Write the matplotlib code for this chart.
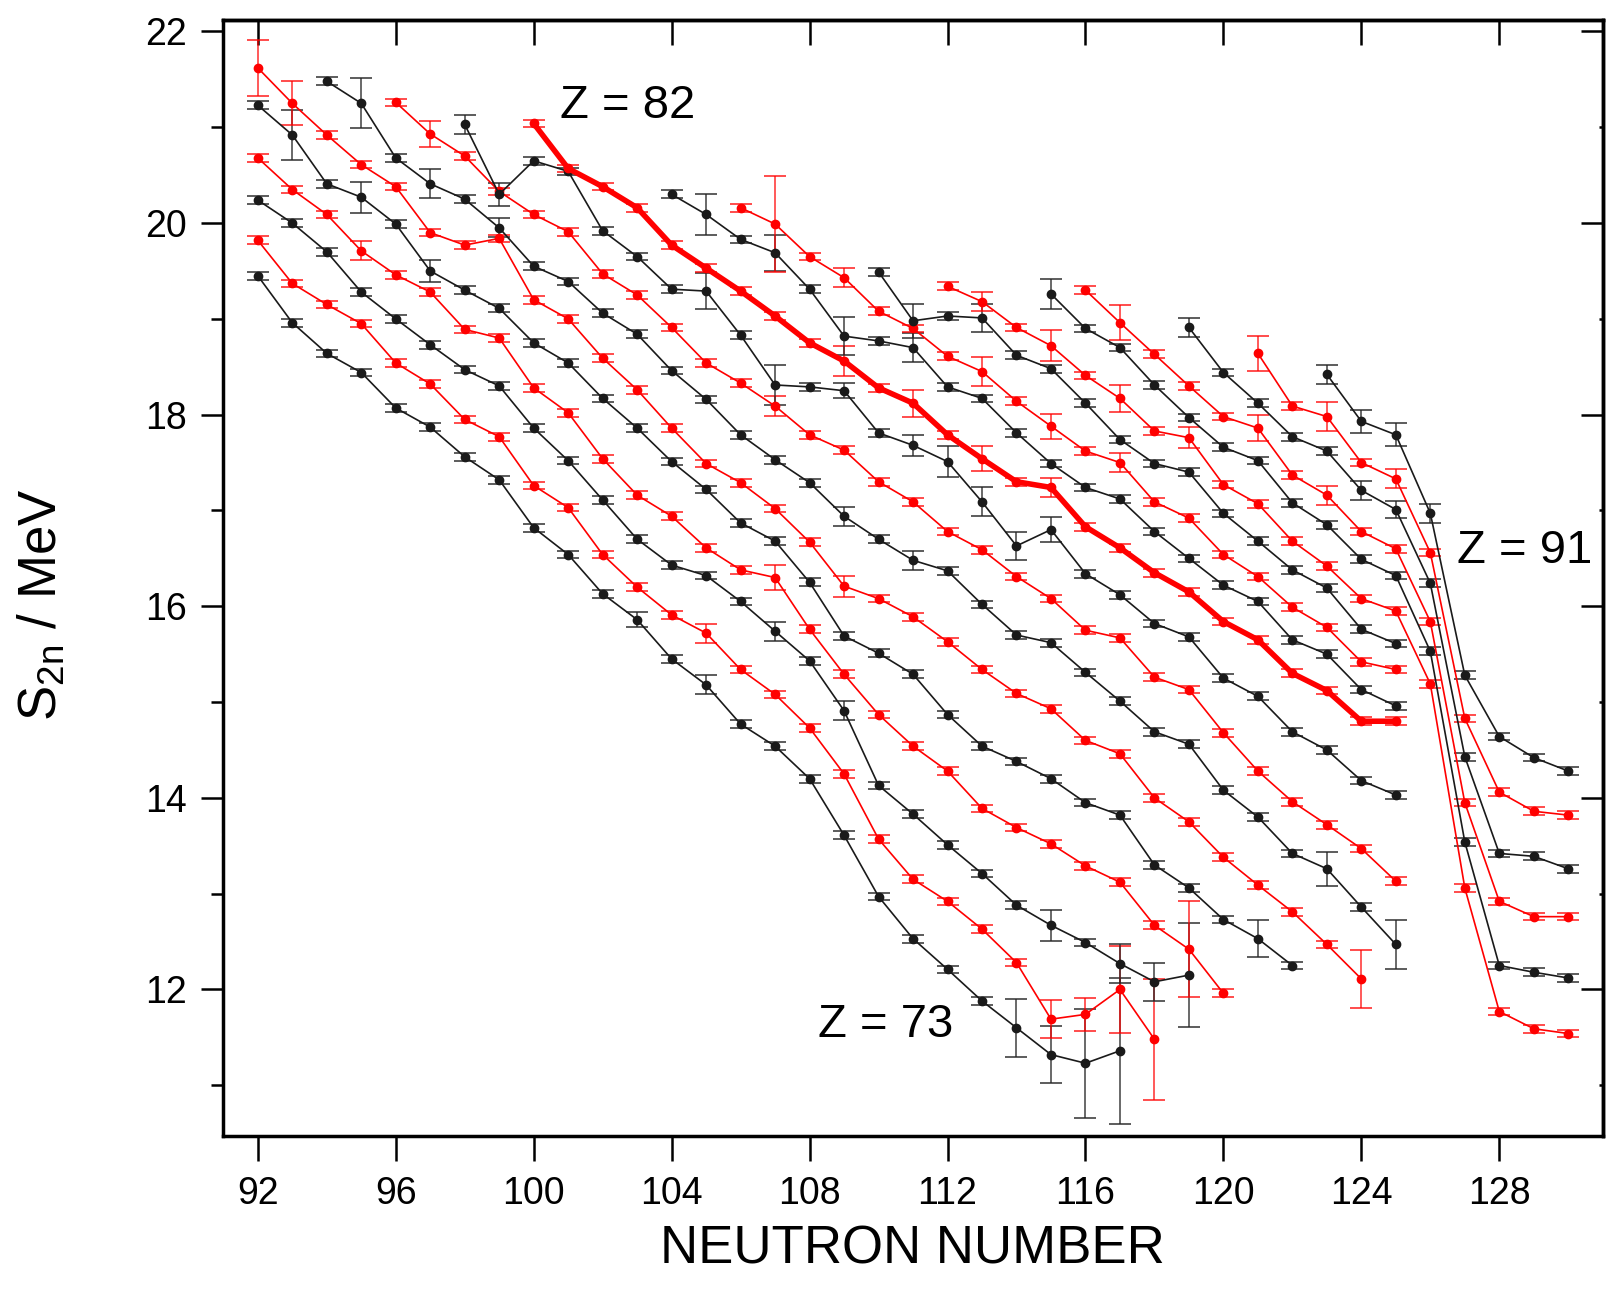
import matplotlib.pyplot as plt
import numpy as np

plt.rcParams['font.family'] = ['Liberation Sans', 'DejaVu Sans']
plt.rcParams['mathtext.fontset'] = 'custom'
plt.rcParams['mathtext.rm'] = 'Liberation Sans'

# proton number of each isotopic chain and the first neutron number it has
protons = [73, 74, 75, 76, 77, 78, 79, 80, 81, 82, 83, 84, 85, 86, 87, 88, 89, 90, 91]
first_n = [92, 92, 92, 92, 92, 92, 94, 96, 98, 100, 104, 106, 110, 112, 115, 116, 119, 121, 123]

# S2n values (MeV) for consecutive neutron numbers
s2n_73 = [19.45, 18.96, 18.64, 18.44, 18.07, 17.87, 17.56, 17.32, 16.82, 16.54, 16.13, 15.86, 15.45,
          15.18, 14.77, 14.54, 14.20, 13.61, 12.97, 12.53, 12.21, 11.88, 11.60, 11.32, 11.23, 11.36]
s2n_74 = [19.82, 19.37, 19.15, 18.95, 18.54, 18.32, 17.95, 17.77, 17.26, 17.03, 16.54, 16.20, 15.91,
          15.72, 15.34, 15.08, 14.73, 14.25, 13.57, 13.15, 12.92, 12.63, 12.28, 11.69, 11.74, 12.00, 11.48]
s2n_75 = [20.24, 20.00, 19.70, 19.28, 19.00, 18.73, 18.47, 18.30, 17.86, 17.52, 17.11, 16.70, 16.43,
          16.32, 16.05, 15.74, 15.43, 14.91, 14.13, 13.83, 13.51, 13.21, 12.88, 12.67, 12.49, 12.27,
          12.08, 12.15]
s2n_76 = [20.68, 20.35, 20.09, 19.71, 19.46, 19.28, 18.89, 18.80, 18.28, 18.02, 17.54, 17.16, 16.94,
          16.61, 16.38, 16.30, 15.76, 15.29, 14.87, 14.54, 14.28, 13.89, 13.69, 13.52, 13.29, 13.12,
          12.67, 12.42, 11.96]
s2n_77 = [21.23, 20.92, 20.41, 20.27, 19.99, 19.50, 19.30, 19.11, 18.75, 18.54, 18.17, 17.86, 17.51,
          17.22, 16.87, 16.68, 16.25, 15.69, 15.51, 15.29, 14.87, 14.54, 14.38, 14.20, 13.95, 13.82,
          13.30, 13.06, 12.73, 12.53, 12.25]
s2n_78 = [21.62, 21.25, 20.92, 20.61, 20.38, 19.90, 19.77, 19.84, 19.20, 19.00, 18.59, 18.26, 17.86,
          17.49, 17.29, 17.02, 16.67, 16.21, 16.08, 15.89, 15.63, 15.34, 15.09, 14.93, 14.60, 14.46,
          14.00, 13.75, 13.38, 13.09, 12.81, 12.47, 12.11]
s2n_79 = [21.48, 21.25, 20.68, 20.41, 20.25, 19.95, 19.55, 19.39, 19.06, 18.84, 18.46, 18.16, 17.79,
          17.53, 17.29, 16.94, 16.70, 16.48, 16.37, 16.02, 15.70, 15.62, 15.31, 15.01, 14.69, 14.56,
          14.08, 13.80, 13.42, 13.26, 12.86, 12.47]
s2n_80 = [21.26, 20.93, 20.70, 20.33, 20.09, 19.91, 19.47, 19.25, 18.91, 18.54, 18.33, 18.09, 17.79,
          17.63, 17.30, 17.09, 16.78, 16.59, 16.31, 16.08, 15.75, 15.67, 15.26, 15.13, 14.68, 14.28,
          13.96, 13.72, 13.47, 13.13]
s2n_81 = [21.03, 20.30, 20.65, 20.54, 19.92, 19.65, 19.31, 19.29, 18.83, 18.31, 18.29, 18.25, 17.81,
          17.68, 17.51, 17.09, 16.63, 16.80, 16.34, 16.12, 15.82, 15.68, 15.25, 15.06, 14.69, 14.50,
          14.18, 14.03]
s2n_82 = [21.04, 20.57, 20.38, 20.16, 19.77, 19.53, 19.29, 19.03, 18.75, 18.56, 18.28, 18.12, 17.79,
          17.54, 17.30, 17.24, 16.83, 16.61, 16.35, 16.15, 15.84, 15.65, 15.30, 15.12, 14.80, 14.80]
s2n_83 = [20.30, 20.09, 19.83, 19.69, 19.31, 18.82, 18.77, 18.70, 18.29, 18.17, 17.81, 17.49, 17.24,
          17.12, 16.78, 16.50, 16.22, 16.05, 15.65, 15.50, 15.13, 14.96]
s2n_84 = [20.16, 19.99, 19.65, 19.43, 19.08, 18.90, 18.61, 18.45, 18.14, 17.88, 17.62, 17.50, 17.09,
          16.92, 16.54, 16.31, 15.99, 15.78, 15.42, 15.34]
s2n_85 = [19.49, 18.98, 19.03, 19.01, 18.62, 18.48, 18.12, 17.74, 17.49, 17.40, 16.97, 16.68, 16.38,
          16.19, 15.76, 15.61]
s2n_86 = [19.34, 19.18, 18.91, 18.72, 18.41, 18.17, 17.83, 17.76, 17.27, 17.07, 16.68, 16.42, 16.08,
          15.95, 15.19, 13.06, 11.77, 11.59, 11.54]
s2n_87 = [19.26, 18.90, 18.70, 18.31, 17.97, 17.66, 17.52, 17.08, 16.85, 16.49, 16.32, 15.53, 13.54,
          12.25, 12.18, 12.12]
s2n_88 = [19.30, 18.96, 18.63, 18.30, 17.98, 17.86, 17.37, 17.16, 16.78, 16.60, 15.84, 13.95, 12.92,
          12.76, 12.76]
s2n_89 = [18.91, 18.44, 18.12, 17.77, 17.62, 17.21, 17.01, 16.24, 14.43, 13.42, 13.39, 13.26]
s2n_90 = [18.64, 18.09, 17.98, 17.50, 17.33, 16.56, 14.83, 14.06, 13.86, 13.82]
s2n_91 = [18.42, 17.93, 17.79, 16.97, 15.28, 14.64, 14.42, 14.28]

chains = [s2n_73, s2n_74, s2n_75, s2n_76, s2n_77, s2n_78, s2n_79, s2n_80, s2n_81, s2n_82,
          s2n_83, s2n_84, s2n_85, s2n_86, s2n_87, s2n_88, s2n_89, s2n_90, s2n_91]

# uncertainties: most are tiny, the larger ones are listed by (Z, N)
small_err = 0.04
big_err = {
    (78, 92): 0.29, (77, 93): 0.26, (78, 93): 0.23, (79, 95): 0.26, (77, 95): 0.16, (76, 95): 0.10,
    (80, 97): 0.14, (79, 97): 0.15, (77, 97): 0.11, (81, 98): 0.10, (81, 99): 0.12, (79, 99): 0.10,
    (73, 103): 0.08, (73, 105): 0.10, (74, 105): 0.10, (81, 105): 0.19, (83, 105): 0.21,
    (75, 107): 0.10, (76, 107): 0.13, (80, 107): 0.10, (81, 107): 0.21, (83, 107): 0.19, (84, 107): 0.50,
    (75, 109): 0.10, (78, 109): 0.11, (79, 109): 0.10, (81, 109): 0.08, (82, 109): 0.16, (83, 109): 0.20,
    (84, 109): 0.10, (79, 111): 0.10, (81, 111): 0.11, (82, 111): 0.14, (83, 111): 0.15, (85, 111): 0.18,
    (81, 112): 0.16, (81, 113): 0.15, (82, 113): 0.13, (84, 113): 0.15, (85, 113): 0.15, (86, 113): 0.10,
    (73, 114): 0.30, (81, 114): 0.15, (73, 115): 0.30, (74, 115): 0.20, (75, 115): 0.16, (81, 115): 0.13,
    (82, 115): 0.10, (84, 115): 0.13, (86, 115): 0.16, (87, 115): 0.16, (73, 116): 0.57, (74, 116): 0.17,
    (73, 117): 0.76, (74, 117): 0.45, (75, 117): 0.20, (84, 117): 0.10, (86, 117): 0.14, (88, 117): 0.18,
    (74, 118): 0.63, (75, 118): 0.20, (75, 119): 0.54, (76, 119): 0.50, (86, 119): 0.11, (89, 119): 0.10,
    (77, 121): 0.19, (88, 121): 0.14, (90, 121): 0.18, (79, 123): 0.18, (88, 123): 0.10, (90, 123): 0.15,
    (91, 123): 0.10, (78, 124): 0.30, (89, 124): 0.10, (91, 124): 0.12, (79, 125): 0.26, (89, 125): 0.09,
    (90, 125): 0.10, (91, 125): 0.12, (91, 126): 0.10,
}

fig = plt.figure(figsize=(16.10, 12.97), dpi=100)
ax = fig.add_axes([0.1387, 0.1241, 0.8568, 0.8605])

for z, n0, vals in zip(protons, first_n, chains):
    n = np.arange(n0, n0 + len(vals))
    err = [big_err.get((z, k), small_err) for k in n]
    if (z - 73) % 2 == 0:
        col, ecol = '#1a1a1a', (0.15, 0.15, 0.15, 0.75)
    else:
        col, ecol = '#ff0000', (1.0, 0.0, 0.0, 0.7)
    lw = 4.0 if z == 82 else 1.2
    ax.errorbar(n, vals, yerr=err, color=col, ecolor=ecol, lw=lw, elinewidth=1.3,
                capsize=8, capthick=1.4, marker='o', ms=6, mec=col, mfc=col)

ax.set_xlim(91, 131)
ax.set_ylim(10.47, 22.12)
ax.set_xticks(range(92, 129, 4))
ax.set_yticks(range(12, 23, 2))
ax.set_yticks(range(11, 22, 2), minor=True)
ax.tick_params(axis='x', which='major', direction='out', length=18, width=1.8, labelsize=27, pad=11)
ax.tick_params(axis='y', which='major', direction='out', length=16, width=1.8, labelsize=27, pad=10)
ax.tick_params(axis='y', which='minor', direction='out', length=9, width=1.8)
for s in ax.spines.values():
    s.set_linewidth(2.5)

top = ax.secondary_xaxis('top')
top.set_xticks(range(92, 129, 4))
top.tick_params(direction='in', length=18, width=1.8, labeltop=False)
top.spines['top'].set_linewidth(2.5)

right = ax.secondary_yaxis('right')
right.set_yticks(range(12, 23, 2))
right.set_yticks(range(11, 22, 2), minor=True)
right.tick_params(which='major', direction='in', length=16, width=1.8, labelright=False)
right.tick_params(which='minor', direction='in', length=3, width=1.8)
right.spines['right'].set_linewidth(2.5)

ax.text(100.75, 21.22, 'Z = 82', fontsize=34, ha='left', va='center')
ax.text(126.78, 16.58, 'Z = 91', fontsize=34, ha='left', va='center')
ax.text(108.23, 11.63, 'Z = 73', fontsize=34, ha='left', va='center')

fig.text(41 / 1610, 1 - 605 / 1297, r'S$_{\rm 2n}$ / MeV', rotation=90, ha='center', va='center', fontsize=38)
fig.text(0.567, 0.037, 'NEUTRON NUMBER', ha='center', va='center', fontsize=38)

fig.savefig('out.png', dpi=100)
